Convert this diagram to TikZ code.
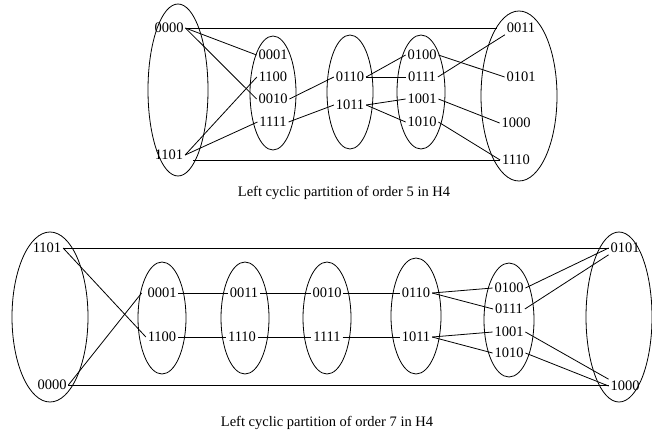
\documentclass[tikz,border=0pt]{standalone}
\usepackage{fontspec}
\setmainfont{Liberation Serif}
\begin{document}
\begin{tikzpicture}[x=1pt,y=-1pt,
  lbl/.style={inner sep=1.5pt,font=\fontsize{14.5}{16}\selectfont},
  captxt/.style={inner sep=0pt,font=\fontsize{14.5}{16}\selectfont},
  every path/.style={line width=0.8pt}]
\useasboundingbox (0,0) rectangle (652,432);
% ---------- top diagram ----------
\draw (178,90) ellipse [x radius=30,y radius=86];
\draw (273,93) ellipse [x radius=23,y radius=57];
\draw (350,92) ellipse [x radius=23,y radius=57];
\draw (421,92) ellipse [x radius=24,y radius=57];
\draw (519,96) ellipse [x radius=38,y radius=85];
\node[lbl] (a0000) at (169,28) {0000};
\node[lbl] (a1101) at (169,155) {1101};
\node[lbl] (a0001) at (273,55) {0001};
\node[lbl] (a1100) at (273,77) {1100};
\node[lbl] (a0010) at (273,99) {0010};
\node[lbl] (a1111) at (273,122) {1111};
\node[lbl] (a0110) at (350,77) {0110};
\node[lbl] (a1011) at (350,105) {1011};
\node[lbl] (a0100) at (422,55) {0100};
\node[lbl] (a0111) at (422,77) {0111};
\node[lbl] (a1001) at (422,99) {1001};
\node[lbl] (a1010) at (422,122) {1010};
\node[lbl] (a0011) at (521,28) {0011};
\node[lbl] (a0101) at (521,77) {0101};
\node[lbl] (a1000) at (516,123) {1000};
\node[lbl] (a1110) at (516,160) {1110};
\draw ([xshift=2pt]a0000.east) -- ([xshift=-8pt]a0011.west);
\draw ([xshift=8pt]a1101.east |- a1110.west) -- (a1110.west);
\draw (a0000.east) -- (a0001.west);
\draw (a0000.east) -- (a0010.west);
\draw (a1101.east) -- (a1100.west);
\draw (a1101.east) -- (a1111.west);
\draw (a0010.east) -- (a0110.west);
\draw (a1111.east) -- (a1011.west);
\draw (a0110.east) -- (a0100.west);
\draw (a0110.east) -- (a0111.west);
\draw (a1011.east) -- (a1001.west);
\draw (a1011.east) -- (a1010.west);
\draw (a0100.east) -- (a0101.west);
\draw (a0111.east) -- (a0011.south west);
\draw (a1001.east) -- (a1000.west);
\draw (a1010.east) -- (a1110.west);
\node[captxt] (c1) at (344,193) {Left cyclic partition of order 5 in H4};
% ---------- bottom diagram ----------
\draw (50,317) ellipse [x radius=38,y radius=85];
\draw (162,318) ellipse [x radius=24,y radius=56];
\draw (245,318) ellipse [x radius=24,y radius=56];
\draw (327,318) ellipse [x radius=24,y radius=56];
\draw (416,316) ellipse [x radius=25,y radius=58];
\draw (509,320) ellipse [x radius=25,y radius=57];
\draw (619,317) ellipse [x radius=33,y radius=85];
\node[lbl] (b1101) at (47,248) {1101};
\node[lbl] (b0000) at (52,385) {0000};
\node[lbl] (b0001) at (162,293) {0001};
\node[lbl] (b1100) at (162,337) {1100};
\node[lbl] (b0011) at (244,293) {0011};
\node[lbl] (b1110) at (242,337) {1110};
\node[lbl] (b0010) at (327,293) {0010};
\node[lbl] (b1111) at (327,337) {1111};
\node[lbl] (b0110) at (416,293) {0110};
\node[lbl] (b1011) at (416,337) {1011};
\node[lbl] (b0100) at (509,288) {0100};
\node[lbl] (b0111) at (509,309) {0111};
\node[lbl] (b1001) at (509,332) {1001};
\node[lbl] (b1010) at (509,353) {1010};
\node[lbl] (b0101) at (625,248) {0101};
\node[lbl] (b1000) at (625,386) {1000};
\draw (b1101.east) -- (b0101.west);
\draw (b0000.east) -- (b0000.east -| b1000.west);
\draw (b1101.east) -- (b1100.west);
\draw (b0000.east) -- ([xshift=-4pt]b0001.west);
\draw (b0001.east) -- (b0011.west);
\draw (b0011.east) -- (b0010.west);
\draw (b0010.east) -- (b0110.west);
\draw (b1100.east) -- (b1110.west);
\draw (b1110.east) -- (b1111.west);
\draw (b1111.east) -- (b1011.west);
\draw (b0110.east) -- (b0100.west);
\draw (b0110.east) -- (b0111.west);
\draw (b1011.east) -- (b1001.west);
\draw (b1011.east) -- (b1010.west);
\draw (b0100.east) -- (b0101.west);
\draw (b0111.east) -- (b0101.south west);
\draw (b1001.east) -- (b1000.north west);
\draw (b1010.east) -- (b1000.west);
\node[captxt] (c2) at (327,423) {Left cyclic partition of order 7 in H4};
\end{tikzpicture}
\end{document}
